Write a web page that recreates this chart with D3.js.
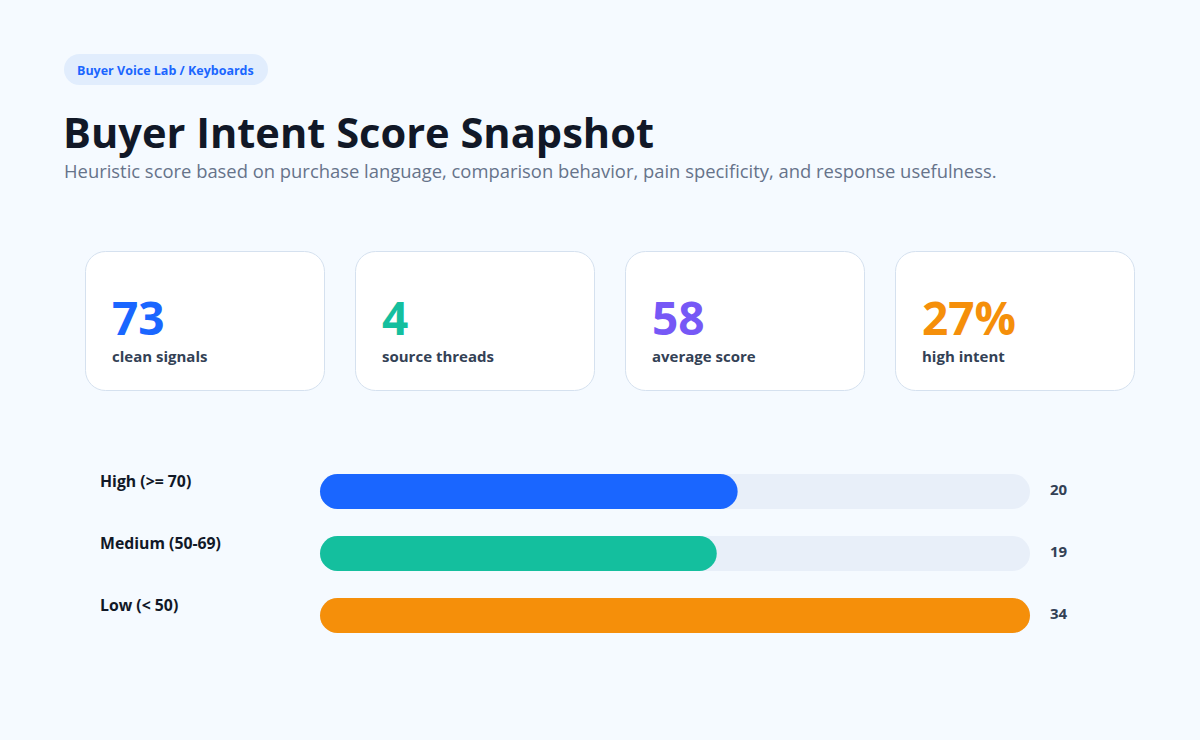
<!DOCTYPE html>
<html>
<head>
<meta charset="utf-8">
<script src="https://cdn.jsdelivr.net/npm/d3@7"></script>
<style>
  body { margin: 0; background: #f5faff; }
  svg { display: block; font-family: "Segoe UI", "Open Sans", "Noto Sans", sans-serif; }
</style>
</head>
<body>
<div id="chart"></div>
<script>
// kpi cards
var kpiValues = ["73", "4", "58", "27%"];
var kpiLabels = ["clean signals", "source threads", "average score", "high intent"];
var kpiColors = ["#1a66ff", "#14bf9e", "#7658f6", "#f58f0a"];

// score buckets
var bucketNames = ["High (>= 70)", "Medium (50-69)", "Low (< 50)"];
var bucketCounts = [20, 19, 34];
var bucketColors = ["#1a66ff", "#14bf9e", "#f58f0a"];

var W = 1200, H = 740;
var svg = d3.select("#chart").append("svg")
  .attr("width", W)
  .attr("height", H);

svg.append("rect").attr("width", W).attr("height", H).attr("fill", "#f5faff");

// pill
var pill = svg.append("g");
pill.append("rect")
  .attr("x", 64).attr("y", 54).attr("width", 204).attr("height", 31)
  .attr("rx", 15.5).attr("fill", "#e1edfd");
pill.append("text")
  .attr("x", 77).attr("y", 74.5)
  .attr("font-size", 12.5).attr("font-weight", 700).attr("fill", "#1a66ff")
  .text("Buyer Voice Lab / Keyboards");

// title
svg.append("text")
  .attr("x", 63).attr("y", 148)
  .attr("font-size", 41.6).attr("font-weight", 700).attr("fill", "#111827")
  .text("Buyer Intent Score Snapshot");
svg.append("text")
  .attr("x", 64).attr("y", 178)
  .attr("font-size", 18.4).attr("fill", "#66738a")
  .text("Heuristic score based on purchase language, comparison behavior, pain specificity, and response usefulness.");

// cards
var cardX = d3.scaleBand().domain(d3.range(kpiValues.length)).range([85, 1135]).paddingInner(1 / 9).paddingOuter(0);
var cards = svg.selectAll("g.card").data(kpiValues).enter().append("g")
  .attr("class", "card")
  .attr("transform", function(d, i) { return "translate(" + cardX(i) + ",251)"; });
cards.append("rect")
  .attr("x", 0.5).attr("y", 0.5)
  .attr("width", cardX.bandwidth() - 1).attr("height", 139)
  .attr("rx", 20).attr("fill", "#fff").attr("stroke", "#d5e1ef");
cards.append("text")
  .attr("x", 27).attr("y", 84)
  .attr("font-size", 46).attr("font-weight", 700)
  .attr("fill", function(d, i) { return kpiColors[i]; })
  .text(function(d) { return d; });
cards.append("text")
  .attr("x", 27).attr("y", 111)
  .attr("font-size", 15).attr("font-weight", 700).attr("fill", "#334155")
  .text(function(d, i) { return kpiLabels[i]; });

// bars
var x = d3.scaleLinear().domain([0, d3.max(bucketCounts)]).range([0, 710]);
var barH = 35;
var y = d3.scaleBand().domain(bucketNames).range([474, 474 + 62 * 3 - 27]).paddingInner(27 / 62).paddingOuter(0);

var rows = svg.selectAll("g.row").data(bucketNames).enter().append("g")
  .attr("class", "row")
  .attr("transform", function(d) { return "translate(0," + y(d) + ")"; });
rows.append("rect")
  .attr("x", 320).attr("y", 0).attr("width", x.range()[1]).attr("height", barH)
  .attr("rx", barH / 2).attr("fill", "#e8eff9");
rows.append("rect")
  .attr("x", 320).attr("y", 0)
  .attr("width", function(d, i) { return x(bucketCounts[i]); })
  .attr("height", barH).attr("rx", barH / 2)
  .attr("fill", function(d, i) { return bucketColors[i]; });
rows.append("text")
  .attr("x", 100).attr("y", 13)
  .attr("font-size", 15.8).attr("font-weight", 700).attr("fill", "#111827")
  .text(function(d) { return d; });
rows.append("text")
  .attr("x", 1050).attr("y", 21)
  .attr("font-size", 15).attr("font-weight", 700).attr("fill", "#334155")
  .text(function(d, i) { return bucketCounts[i]; });
</script>
</body>
</html>
